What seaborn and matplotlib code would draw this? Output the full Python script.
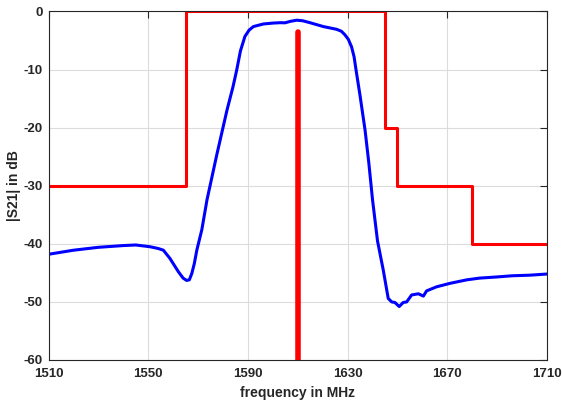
import numpy as np
import pandas as pd
import matplotlib
matplotlib.use('Agg')
import matplotlib.pyplot as plt
import seaborn as sns

# filter response |S21|
freq = [1510, 1520, 1530, 1540, 1545, 1550.7, 1554, 1556.1, 1558.7, 1562.1, 1564, 1565.4,
        1566.5, 1567.5, 1568.5, 1569.5, 1571.5, 1573.6, 1577.5, 1581.6, 1584, 1585.5,
        1587, 1588.8, 1590.5, 1592.2, 1596.2, 1600, 1602.9, 1604.9, 1607, 1609.6,
        1612, 1614.9, 1620.3, 1625.6, 1627.5, 1628.9, 1630.3, 1631.6, 1632.6, 1633.4,
        1635, 1637, 1638.5, 1640, 1642, 1644.3, 1646.3, 1647.7, 1649.0, 1650.7,
        1652.3, 1653.7, 1655.7, 1658.4, 1660.4, 1661.7, 1665.7, 1671.1, 1677.8,
        1683, 1690, 1696, 1703, 1710]
s21 = [-41.8, -41.1, -40.6, -40.3, -40.2, -40.5, -40.8, -41.1, -42.5, -44.8, -45.9, -46.3,
       -46.2, -45.1, -43.4, -41.1, -37.6, -32.4, -24.7, -17.0, -13.0, -10.1,
       -6.8, -4.3, -3.2, -2.6, -2.15, -2.0, -1.93, -1.95, -1.7, -1.5,
       -1.6, -1.93, -2.6, -3.07, -3.4, -4.0, -4.8, -6.1, -7.8, -10.1,
       -14.5, -20.4, -26.0, -32.4, -39.5, -44.5, -49.4, -50.0, -50.1, -50.8,
       -50.1, -50.0, -48.8, -48.6, -49.0, -48.1, -47.4, -46.8, -46.2,
       -45.9, -45.7, -45.5, -45.4, -45.2]

# specification mask
mask_f = [1510, 1565, 1645, 1650, 1680, 1710]
mask_db = [-30, 0, -20, -30, -40, -40]

# marker line
mark_f = [1610, 1610]
mark_db = [-60, -3.5]

xticks = [1510, 1550, 1590, 1630, 1670, 1710]
yticks = [0, -10, -20, -30, -40, -50, -60]

sns.set_style('white')
plt.rcParams['font.family'] = ['Liberation Sans', 'DejaVu Sans']
plt.rcParams['axes.unicode_minus'] = False

fig = plt.figure(figsize=(5.62, 4.03), dpi=100)
ax = fig.add_axes([0.0863, 0.1067, 0.8870, 0.8648])

sns.lineplot(x=freq, y=s21, ax=ax, color='#0000ff', linewidth=2.2,
             estimator=None, sort=False)
sns.lineplot(x=mask_f, y=mask_db, ax=ax, color='#ff0000', linewidth=2.2,
             estimator=None, sort=False, drawstyle='steps-post')
sns.lineplot(x=mark_f, y=mark_db, ax=ax, color='#ff0000', linewidth=4,
             estimator=None, sort=False)

ax.set_xlim(1510, 1710)
ax.set_ylim(-60, 0)
ax.set_xticks(xticks)
ax.set_yticks(yticks)
ax.grid(True, color='#dcdcdc', linewidth=0.8)
ax.set_axisbelow(True)
for s in ax.spines.values():
    s.set_color('#262626')
    s.set_linewidth(0.8)
ax.tick_params(direction='in', length=5, width=0.8, color='#262626',
               top=True, right=True, labelsize=9.5, labelcolor='#262626')
ax.tick_params(axis='x', pad=6)
ax.tick_params(axis='y', pad=4)
for lab in ax.get_xticklabels() + ax.get_yticklabels():
    lab.set_fontweight('bold')
ax.set_xlabel('frequency in MHz', fontsize=10, fontweight='bold', color='#262626', labelpad=4)
ax.set_ylabel('|S21| in dB', fontsize=10, fontweight='bold', color='#262626', labelpad=2)

fig.savefig('out.png', dpi=100)
